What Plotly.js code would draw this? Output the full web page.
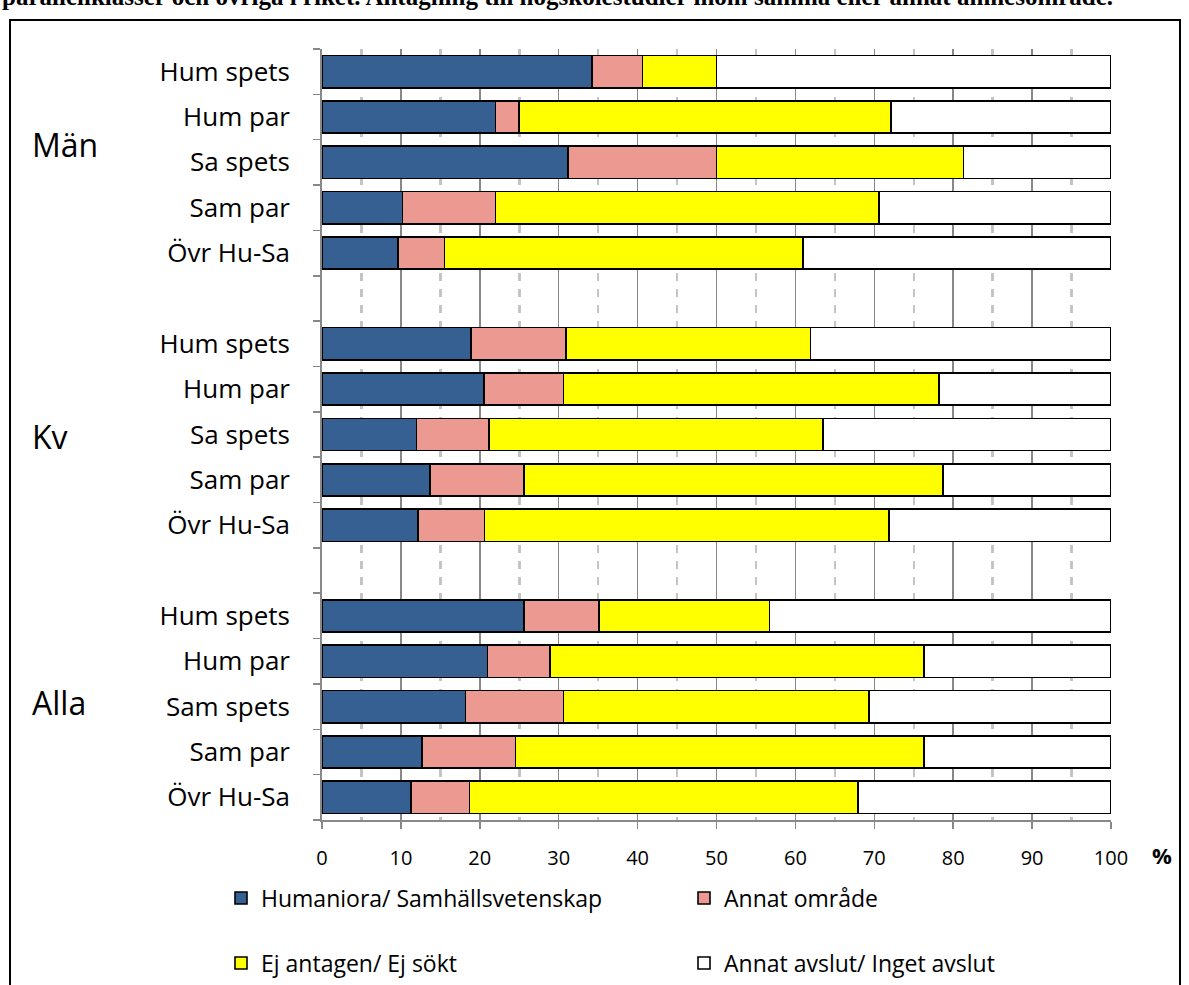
<!DOCTYPE html>
<html>
<head>
<meta charset="utf-8">
<script src="https://cdn.plot.ly/plotly-3.0.1.min.js"></script>
<style>
html,body{margin:0;padding:0;background:#fff;}
#chart{width:1189px;height:985px;}
</style>
</head>
<body>
<div id="chart"></div>
<script>
// ---- DATA ----
const groupNames = ["Män", "Kv", "Alla"];
const catsMan  = ["Hum spets", "Hum par", "Sa spets", "Sam par", "Övr Hu-Sa"];
const catsKv   = ["Hum spets", "Hum par", "Sa spets", "Sam par", "Övr Hu-Sa"];
const catsAlla = ["Hum spets", "Hum par", "Sam spets", "Sam par", "Övr Hu-Sa"];
const seriesNames = ["Humaniora/ Samhällsvetenskap", "Annat område", "Ej antagen/ Ej sökt", "Annat avslut/ Inget avslut"];
// values in %, order: Män (5 rows), Kv (5 rows), Alla (5 rows)
const humSam    = [34.2, 22.0, 31.2, 10.2,  9.6,  18.9, 20.5, 12.0, 13.7, 12.2,  25.6, 21.0, 18.2, 12.7, 11.3];
const annatOmr  = [ 6.4,  3.0, 18.8, 11.8,  5.9,  12.0, 10.1,  9.2, 11.9,  8.4,   9.5,  7.9, 12.4, 11.8,  7.4];
const ejAntagen = [ 9.4, 47.1, 31.3, 48.6, 45.5,  31.0, 47.6, 42.3, 53.1, 51.3,  21.6, 47.4, 38.7, 51.8, 49.2];
const annatAvsl = [50.0, 27.9, 18.7, 29.4, 39.0,  38.1, 21.8, 36.5, 21.3, 28.1,  43.3, 23.7, 30.7, 23.7, 32.1];
const xTicks = [0, 10, 20, 30, 40, 50, 60, 70, 80, 90, 100];

// ---- LAYOUT HELPERS ----
const W = 1189, H = 985;
const M = {l: 322, r: 78, t: 49, b: 165, autoexpand: false};
const PW = W - M.l - M.r, PH = H - M.t - M.b;
const px2x = p => (p - M.l) / PW;
const py2y = p => 1 - (p - M.t) / PH;

const groups = [catsMan, catsKv, catsAlla];
const rowsPerGroup = 6; // 5 bars + 1 gap
const nSlots = groups.length * rowsPerGroup - 1; // 17
const yPos = [], yLabels = [];
groups.forEach((cats, g) => {
  cats.forEach((c, i) => {
    yPos.push(nSlots - 1 - (g * rowsPerGroup + i));
    yLabels.push(c);
  });
});
const yRange = [-0.5, nSlots - 0.5];
const boundaries = [];
for (let i = 0; i <= nSlots; i++) boundaries.push(i - 0.5);

const colors = ["#376092", "#EC9A91", "#FFFF00", "#FFFFFF"];
const seriesVals = [humSam, annatOmr, ejAntagen, annatAvsl];
const legendIds = ["legend", "legend2", "legend3", "legend4"];

const traces = seriesVals.map((vals, k) => ({
  type: "bar",
  orientation: "h",
  name: seriesNames[k],
  x: vals,
  y: yPos,
  width: 0.71,
  marker: {color: colors[k], line: {color: "#000000", width: 1.6}},
  legend: legendIds[k],
  hoverinfo: "skip"
}));

const legFont = {family: "Open Sans", size: 23, color: "#000"};
const legendPos = [
  {x: px2x(221), y: py2y(898)},
  {x: px2x(684), y: py2y(898)},
  {x: px2x(221), y: py2y(963)},
  {x: px2x(684), y: py2y(963)}
];
function mkLegend(p) {
  return {x: p.x, y: p.y, xanchor: "left", yanchor: "middle", orientation: "h",
          font: legFont, bgcolor: "rgba(0,0,0,0)", borderwidth: 0};
}

const groupLabelY = [144, 436, 702];
const annotations = groupNames.map((g, i) => ({
  text: g, xref: "paper", yref: "paper", x: px2x(30), y: py2y(groupLabelY[i]),
  xanchor: "left", yanchor: "middle", showarrow: false,
  font: {family: "Open Sans", size: 32, color: "#000"}
}));
annotations.push({
  text: "%", xref: "paper", yref: "paper", x: px2x(1150), y: py2y(855),
  xanchor: "left", yanchor: "middle", showarrow: false,
  font: {family: "Open Sans", size: 22, color: "#000", weight: "bold"}
});
annotations.push({
  text: "parallellklasser och övriga i riket. Antagning till högskolestudier inom samma eller annat ämnesområde.",
  xref: "paper", yref: "paper", x: px2x(0), y: py2y(-4),
  xanchor: "left", yanchor: "middle", showarrow: false,
  font: {family: "Liberation Serif", size: 25, color: "#000", weight: "bold"}
});

const layout = {
  width: W, height: H,
  margin: M,
  paper_bgcolor: "#fff", plot_bgcolor: "#fff",
  barmode: "stack",
  bargap: 0,
  showlegend: true,
  legend: mkLegend(legendPos[0]),
  legend2: mkLegend(legendPos[1]),
  legend3: mkLegend(legendPos[2]),
  legend4: mkLegend(legendPos[3]),
  xaxis: {
    range: [0, 100], tickvals: xTicks, ticktext: xTicks.map(String),
    showgrid: true, gridcolor: "#888888", gridwidth: 1.5,
    minor: {tick0: 5, dtick: 10, showgrid: true, gridcolor: "#C4C4C4", gridwidth: 2.5, griddash: "8px,8px", ticks: ""},
    ticks: "outside", ticklen: 7, tickwidth: 1.5, tickcolor: "#888888",
    showline: true, linecolor: "#888888", linewidth: 2,
    zeroline: false, ticklabelstandoff: 12,
    tickfont: {family: "Open Sans", size: 20, color: "#000"},
    fixedrange: true
  },
  yaxis: {
    range: yRange, tickvals: yPos, ticktext: yLabels,
    showgrid: false, zeroline: false, ticks: "", showline: false,
    ticklabelstandoff: 31,
    tickfont: {family: "Open Sans", size: 26, color: "#000"},
    fixedrange: true
  },
  yaxis2: {
    overlaying: "y", anchor: "x", side: "left",
    range: yRange, tickvals: boundaries, showticklabels: false,
    ticks: "outside", ticklen: 7, tickwidth: 1.5, tickcolor: "#888888",
    showline: true, linecolor: "#888888", linewidth: 2,
    showgrid: false, zeroline: false, fixedrange: true
  },
  shapes: [{
    type: "rect", xref: "paper", yref: "paper",
    x0: px2x(10), x1: px2x(1180), y0: py2y(995), y1: py2y(20),
    line: {color: "#000", width: 2}, fillcolor: "rgba(0,0,0,0)"
  }],
  annotations: annotations
};

// empty helper trace so that the boundary-tick axis is always drawn
traces.push({type: "scatter", x: [], y: [], yaxis: "y2", showlegend: false, hoverinfo: "skip"});

Plotly.newPlot("chart", traces, layout, {displayModeBar: false, staticPlot: true});
</script>
</body>
</html>
